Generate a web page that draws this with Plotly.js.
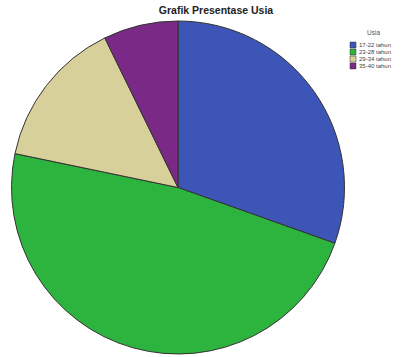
<!DOCTYPE html>
<html><head><meta charset="utf-8">
<script src="https://cdn.plot.ly/plotly-3.0.1.min.js"></script>
<style>body{margin:0;background:#fff}#c{width:404px;height:357px}</style>
</head><body><div id="c"></div>
<script>
var categories = ["17-22 tahun", "23-28 tahun", "29-34 tahun", "35-40 tahun"];
var counts = [21, 33, 10, 5];
var colors = ["#3E55B8", "#2DB43E", "#D8D09A", "#7A2A86"];
var legendTitle = "Usia";

var W = 404, H = 357;
var trace = {
  type: "pie",
  labels: categories,
  values: counts,
  sort: false,
  direction: "clockwise",
  rotation: 0,
  textinfo: "none",
  hoverinfo: "label+percent",
  marker: {colors: colors, line: {color: "#333333", width: 1}},
  domain: {x: [11 / W, 345 / W], y: [1 - 354 / H, 1 - 21 / H]}
};

var shapes = [], annotations = [];
var fontFam = "Liberation Sans, Arial, sans-serif";
annotations.push({xref: "paper", yref: "paper", x: 373 / W, y: 1 - 32 / H, xanchor: "center", yanchor: "middle",
  text: legendTitle, showarrow: false, font: {size: 6.5, color: "#555", family: fontFam}});
categories.forEach(function (c, i) {
  var yc = 45 + i * 7;
  shapes.push({type: "rect", xref: "paper", yref: "paper",
    x0: 350 / W, x1: 356 / W, y0: 1 - (yc - 3) / H, y1: 1 - (yc + 3) / H,
    fillcolor: colors[i], line: {color: "#333", width: 0.5}});
  annotations.push({xref: "paper", yref: "paper", x: 357 / W, y: 1 - yc / H, xanchor: "left", yanchor: "middle",
    text: c, showarrow: false, font: {size: 6, color: "#444", family: fontFam}});
});

var layout = {
  width: W, height: H,
  margin: {l: 0, r: 0, t: 0, b: 0},
  paper_bgcolor: "#ffffff",
  showlegend: false,
  title: {text: "<b>Grafik Presentase Usia</b>", font: {family: fontFam, size: 10.5, color: "#222"}, x: 216 / W, xanchor: "center", y: 1 - 10 / H, yanchor: "middle"},
  shapes: shapes,
  annotations: annotations
};
Plotly.newPlot("c", [trace], layout, {staticPlot: true});
</script></body></html>
